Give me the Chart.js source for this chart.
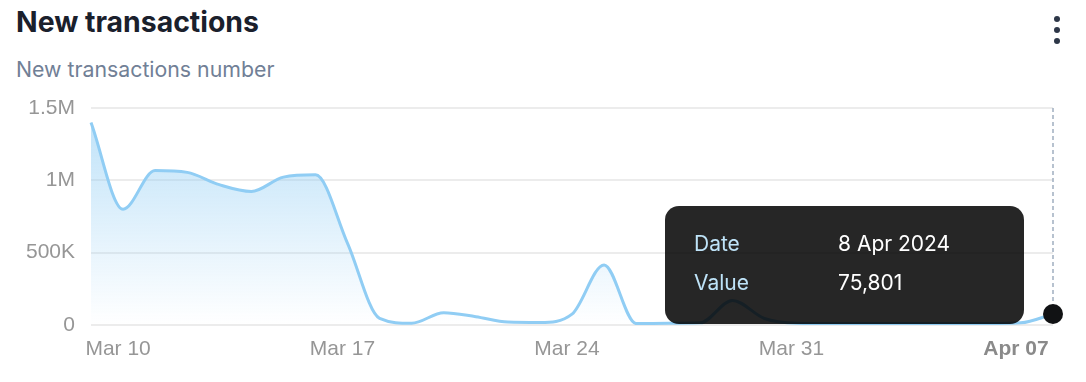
<!DOCTYPE html>
<html>
<head>
<meta charset="utf-8">
<script src="https://cdn.jsdelivr.net/npm/chart.js@4/dist/chart.umd.min.js"></script>
<style>
  html, body { margin: 0; padding: 0; background: #ffffff; }
  #wrap { position: relative; width: 1086px; height: 382px; overflow: hidden; }
  #title { position: absolute; left: 16px; top: 4px; font-family: Inter, "Noto Sans", sans-serif; font-weight: 700; font-size: 28.4px; color: #1a202c; line-height: 36px; white-space: nowrap; }
  #subtitle { position: absolute; left: 16px; top: 55px; font-family: Inter, "Noto Sans", sans-serif; font-weight: 400; font-size: 21.3px; color: #718096; line-height: 28px; white-space: nowrap; }
  #menu { position: absolute; left: 1054px; top: 16px; width: 6px; }
  #menu span { display: block; width: 6px; height: 6px; border-radius: 50%; background: #2d3748; margin-bottom: 5px; }
  #chartBox { position: absolute; left: 0; top: 0; width: 1086px; height: 382px; }
  #tip { position: absolute; display: none; width: 359px; height: 118px; box-sizing: border-box; border-radius: 14px; background: rgba(0,0,0,0.85); font-family: Inter, "Noto Sans", sans-serif; font-size: 21px; }
  #tip .row { position: absolute; left: 29px; white-space: nowrap; line-height: 24px; }
  #tip .k { position: absolute; left: 0; color: #bee3f8; }
  #tip .v { position: absolute; left: 144px; color: #ffffff; }
</style>
</head>
<body>
<div id="wrap">
  <div id="title">New transactions</div>
  <div id="subtitle">New transactions number</div>
  <div id="menu"><span></span><span></span><span></span></div>
  <div id="chartBox"><canvas id="c" width="1086" height="382"></canvas></div>
  <div id="tip">
    <div class="row" style="top:26px"><span class="k">Date</span><span class="v" id="tipDate"></span></div>
    <div class="row" style="top:65px"><span class="k">Value</span><span class="v" id="tipVal"></span></div>
  </div>
</div>
<script>
const dates = [
  "Mar 9","Mar 10","Mar 11","Mar 12","Mar 13","Mar 14","Mar 15","Mar 16","Mar 17",
  "Mar 18","Mar 19","Mar 20","Mar 21","Mar 22","Mar 23","Mar 24","Mar 25","Mar 26",
  "Mar 27","Mar 28","Mar 29","Mar 30","Mar 31","Apr 1","Apr 2","Apr 3","Apr 4",
  "Apr 5","Apr 6","Apr 7","Apr 8"
];
const values = [
  1400000, 800000, 1068000, 1055000, 970000, 923000, 1022000, 1038000, 565000,
  46000, 12000, 85000, 57000, 20000, 17000, 75000, 415000, 10000,
  12000, 15000, 170000, 45000, 12000, 10000, 10000, 10000, 10000,
  10000, 10000, 15000, 75801
];
const xTickLabels = { "Mar 10": "Mar 10", "Mar 17": "Mar 17", "Mar 24": "Mar 24", "Mar 31": "Mar 31", "Apr 7": "Apr 07" };
const boldTickLabel = "Apr 07";
const yTickLabels = { 0: "0", 500000: "500K", 1000000: "1M", 1500000: "1.5M" };
const activeIndex = values.length - 1;
const tooltipDate = "8 Apr 2024";

const tickFont = "'Liberation Sans', Arial, Helvetica, sans-serif";
const isBold = (ctx) => !!(ctx.tick && ctx.tick.label === boldTickLabel);

const crosshair = {
  id: 'crosshair',
  beforeDatasetsDraw(chart) {
    const pt = chart.getDatasetMeta(0).data[activeIndex];
    const ctx = chart.ctx;
    ctx.save();
    ctx.strokeStyle = '#a0aec0';
    ctx.lineWidth = 1.5;
    ctx.setLineDash([4, 3]);
    ctx.beginPath();
    ctx.moveTo(pt.x, chart.chartArea.top);
    ctx.lineTo(pt.x, pt.y - 10);
    ctx.stroke();
    ctx.restore();
  }
};

const chart = new Chart(document.getElementById('c'), {
  type: 'line',
  data: {
    labels: dates,
    datasets: [{
      data: values,
      borderColor: '#90cdf4',
      borderWidth: 3,
      cubicInterpolationMode: 'monotone',
      fill: 'origin',
      backgroundColor(ctx) {
        const a = ctx.chart.chartArea;
        if (!a) return 'rgba(144,205,244,0.3)';
        const g = ctx.chart.ctx.createLinearGradient(0, a.top, 0, a.bottom);
        g.addColorStop(0, 'rgba(144,205,244,0.6)');
        g.addColorStop(1, 'rgba(144,205,244,0)');
        return g;
      },
      pointRadius: (ctx) => ctx.dataIndex === activeIndex ? 10 : 0,
      pointBackgroundColor: '#111214',
      pointBorderWidth: 0,
      pointHoverRadius: 10
    }]
  },
  options: {
    responsive: false,
    animation: false,
    layout: { padding: { top: 108, right: 33, left: 0, bottom: 0 } },
    plugins: { legend: { display: false }, tooltip: { enabled: false } },
    events: [],
    scales: {
      x: {
        type: 'category',
        offset: false,
        border: { display: false },
        grid: { display: false, drawTicks: false },
        afterFit(s) { s.height = 57; },
        ticks: {
          autoSkip: false,
          maxRotation: 0,
          padding: 12,
          labelOffset: -5,
          color: (ctx) => isBold(ctx) ? '#8a8a8a' : '#969696',
          font: (ctx) => ({ family: tickFont, size: 21, weight: isBold(ctx) ? 'bold' : 'normal' }),
          callback(v, i) { const l = dates[i]; return xTickLabels[l] !== undefined ? xTickLabels[l] : null; }
        }
      },
      y: {
        min: 0,
        max: 1500000,
        border: { display: false },
        grid: { color: '#ececec', lineWidth: 2, drawTicks: false },
        afterFit(s) { s.width = 91; },
        afterBuildTicks(s) { s.ticks = Object.keys(yTickLabels).map(v => ({ value: +v })); },
        ticks: {
          padding: 16,
          color: '#969696',
          font: { family: tickFont, size: 21 },
          callback(v) { return yTickLabels[v]; }
        }
      }
    }
  },
  plugins: [crosshair]
});

const pt = chart.getDatasetMeta(0).data[activeIndex];
const tip = document.getElementById('tip');
document.getElementById('tipDate').textContent = tooltipDate;
document.getElementById('tipVal').textContent = values[activeIndex].toLocaleString('en-US');
tip.style.left = (pt.x - 29 - 359) + 'px';
tip.style.top = (pt.y - 108) + 'px';
tip.style.display = 'block';
</script>
</body>
</html>
